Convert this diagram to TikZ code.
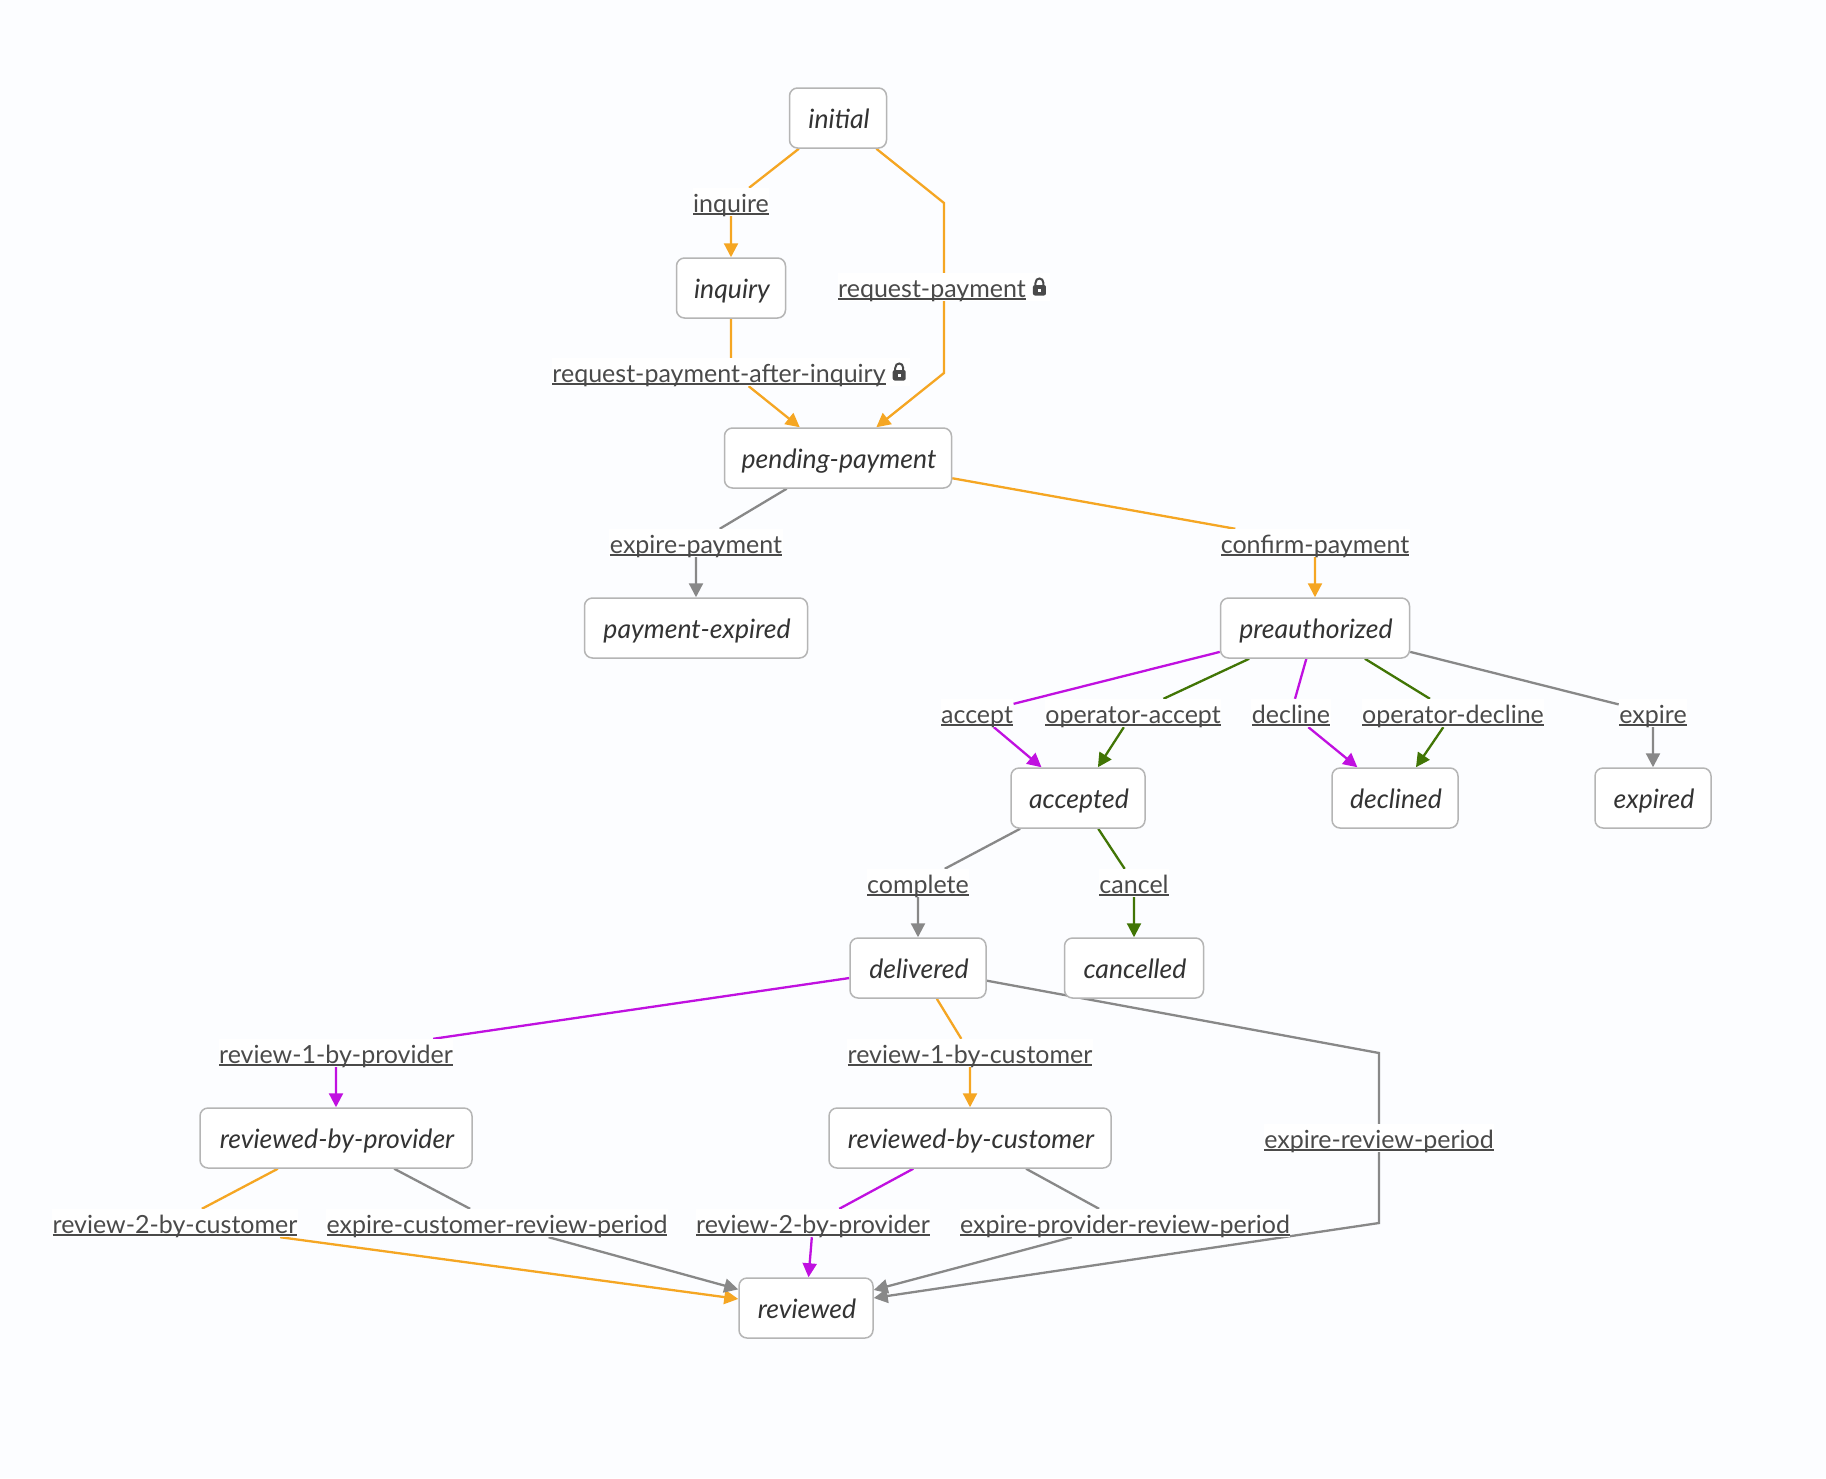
\documentclass[tikz,border=0pt]{standalone}
\usepackage{fontspec}
\setmainfont{Lato}
\usetikzlibrary{arrows.meta,backgrounds}
\definecolor{pagebg}{HTML}{FCFDFF}
\definecolor{edgeorange}{HTML}{F5A623}
\definecolor{edgepurple}{HTML}{C010E0}
\definecolor{edgegreen}{HTML}{417505}
\definecolor{edgegrey}{HTML}{888888}
\definecolor{boxline}{HTML}{B5B5B5}
\definecolor{labeltext}{HTML}{4A4A4A}
\newsavebox{\transbox}
\newcommand{\translink}[1]{%
  \sbox{\transbox}{#1}%
  \rlap{\rule[-3.2pt]{\wd\transbox}{2pt}}\usebox{\transbox}%
}
\tikzset{
  statebox/.style={draw=boxline, fill=white, line width=1.5pt, rounded corners=8pt,
    minimum height=60pt, inner sep=0pt, text=black!80, text height=22pt, text depth=2pt,
    font=\fontsize{26.6}{30}\selectfont\itshape},
  translabel/.style={fill=white, text=labeltext, inner xsep=0.5pt, inner ysep=2pt,
    text height=22pt, text depth=2pt, font=\fontsize{25}{28}\selectfont},
  flow/.style={line width=2.3pt, -{Triangle[length=14pt,width=14pt]}},
  lockicon/.pic={
    \fill [labeltext, rounded corners=2pt] (-6.5,-2) rectangle (6.5,8.5);
    \draw [labeltext, line width=2pt] (-4,-2) -- (-4,-4) .. controls (-4,-10) and (4,-10) .. (4,-4) -- (4,-2);
    \fill [white] (-1.6,1.6) rectangle (1.6,4.8);
  }
}
\begin{document}
\begin{tikzpicture}[x=1pt,y=-1pt]
	\useasboundingbox (0,0) rectangle (1826,1478);

	% states
	\foreach \n/\x/\y/\w in {initial/838/118/97, inquiry/731/288/109,
		pending-payment/838/458/227, payment-expired/696/628/223,
		preauthorized/1315/628/189, accepted/1078/798/134, declined/1395/798/126,
		expired/1653/798/116, delivered/918/968/136, cancelled/1134/968/139,
		reviewed-by-provider/336/1138/272, reviewed-by-customer/970/1138/282,
		reviewed/806/1308/134} {
		\node [statebox, minimum width=\w pt] (\n) at (\x,\y) {\kern2pt\n};
	};

	% transitions
	\foreach \n/\x/\y in {inquire/731/202, expire-payment/696/543, confirm-payment/1315/543,
		accept/977/713, operator-accept/1133/713, decline/1291/713, operator-decline/1453/713,
		expire/1653/713, complete/918/883, cancel/1134/883,
		review-1-by-provider/336/1053, review-1-by-customer/970/1053,
		expire-review-period/1379/1138, review-2-by-customer/175/1223,
		expire-customer-review-period/497/1223, review-2-by-provider/813/1223,
		expire-provider-review-period/1125/1223} {
		\node [translabel] (t-\n) at (\x,\y) {\translink{\n}};
	};
	\node [translabel] (t-request-payment) at (944,287) {\translink{request-payment}\kern24pt};
	\node [translabel] (t-request-payment-after-inquiry) at (731,372) {\translink{request-payment-after-inquiry}\kern24pt};
	\pic at ([xshift=-11pt]t-request-payment.east) {lockicon};
	\pic at ([xshift=-11pt]t-request-payment-after-inquiry.east) {lockicon};

	\coordinate (bend-a) at (944,203);
	\coordinate (bend-b) at (944,373);
	\coordinate (bend-c) at (1379,1053);
	\coordinate (bend-d) at (1379,1223);

	\begin{scope}[on background layer]
		\fill [pagebg] (0,0) rectangle (1826,1478);
		\foreach \a/\b/\c/\col in {initial/inquire/inquiry/edgeorange,
			inquiry/request-payment-after-inquiry/pending-payment/edgeorange,
			pending-payment/expire-payment/payment-expired/edgegrey,
			pending-payment/confirm-payment/preauthorized/edgeorange,
			preauthorized/accept/accepted/edgepurple,
			preauthorized/operator-accept/accepted/edgegreen,
			preauthorized/decline/declined/edgepurple,
			preauthorized/operator-decline/declined/edgegreen,
			preauthorized/expire/expired/edgegrey,
			accepted/complete/delivered/edgegrey,
			accepted/cancel/cancelled/edgegreen,
			delivered/review-1-by-provider/reviewed-by-provider/edgepurple,
			delivered/review-1-by-customer/reviewed-by-customer/edgeorange,
			reviewed-by-provider/review-2-by-customer/reviewed/edgeorange,
			reviewed-by-provider/expire-customer-review-period/reviewed/edgegrey,
			reviewed-by-customer/review-2-by-provider/reviewed/edgepurple,
			reviewed-by-customer/expire-provider-review-period/reviewed/edgegrey} {
			\draw [flow, color=\col] (\a) -- (t-\b) -- (\c);
		};
		\draw [flow, color=edgeorange] (initial) -- (bend-a) -- (bend-b) -- (pending-payment);
		\draw [flow, color=edgegrey] (delivered) -- (bend-c) -- (bend-d) -- (reviewed);
	\end{scope}
\end{tikzpicture}
\end{document}
